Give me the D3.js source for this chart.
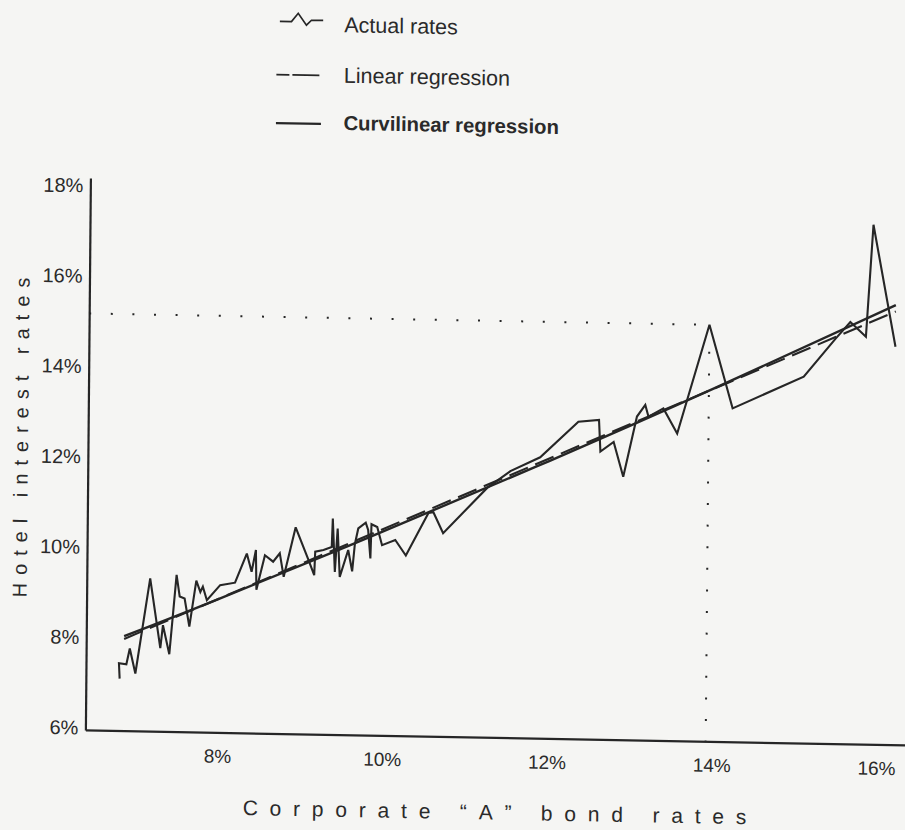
<!DOCTYPE html>
<html>
<head>
<meta charset="utf-8">
<script src="https://cdn.jsdelivr.net/npm/d3@7"></script>
<style>
  html, body { margin: 0; padding: 0; background: #f5f5f3; }
  svg { display: block; }
  text { font-family: "Liberation Sans", Arial, Helvetica, sans-serif; fill: #2a2a2a; }
</style>
</head>
<body>
<svg id="chart" width="905" height="830"></svg>
<script>
// ---- Data ----
const actualX = [6.81, 6.80, 6.89, 6.93, 7.00, 7.17, 7.30, 7.33, 7.41, 7.49,
  7.53, 7.59, 7.65, 7.73, 7.78, 7.81, 7.86, 8.02, 8.20, 8.34,
  8.40, 8.45, 8.46, 8.56, 8.66, 8.74, 8.79, 8.93, 9.09, 9.16,
  9.17, 9.27, 9.37, 9.38, 9.41, 9.44, 9.47, 9.57, 9.62, 9.65,
  9.69, 9.78, 9.81, 9.84, 9.85, 9.92, 9.98, 10.14, 10.27, 10.54,
  10.60, 10.72, 11.25, 11.53, 11.89, 12.35, 12.60, 12.62, 12.78, 12.90,
  13.06, 13.16, 13.20, 13.38, 13.55, 13.93, 14.22, 15.08, 15.46, 15.64,
  15.83, 15.91, 16.19];
const actualY = [7.10, 7.44, 7.42, 7.77, 7.22, 9.33, 7.79, 8.30, 7.66, 9.42,
  8.94, 8.90, 8.28, 9.30, 9.05, 9.17, 8.87, 9.21, 9.27, 9.92,
  9.52, 10.00, 9.12, 9.89, 9.75, 9.94, 9.42, 10.52, 9.80, 9.47,
  9.99, 10.03, 10.10, 10.73, 9.55, 10.51, 9.44, 10.04, 9.57, 10.17,
  10.52, 10.65, 10.49, 9.86, 10.62, 10.56, 10.16, 10.28, 9.94, 10.89,
  10.91, 10.45, 11.47, 11.85, 12.17, 12.97, 13.02, 12.32, 12.54, 11.77,
  13.11, 13.37, 13.11, 13.30, 12.75, 15.17, 13.33, 14.06, 14.91, 15.29,
  14.97, 17.45, 14.76];

const linearX = [6.86, 16.19];
const linearY = [7.98, 15.54];

const curveX = [6.86, 8, 10, 12, 14, 16.19];
const curveY = [8.04, 8.90, 10.47, 12.09, 13.77, 15.68];

const guideX = 13.93;   // dotted reference point
const guideY = 15.17;

const xTicks = [8, 10, 12, 14, 16];
const yTicks = [6, 8, 10, 12, 14, 16, 18];

const legendLabels = ["Actual rates", "Linear regression", "Curvilinear regression"];
const xTitle = "Corporate \u201CA\u201D bond rates";
const yTitle = "Hotel interest rates";

// ---- Drawing ----
const ink = "#262626";
const svg = d3.select("#chart");
svg.append("rect").attr("width", 905).attr("height", 830).attr("fill", "#f5f5f3");

// slight skew/rotation like the scanned original
const g = svg.append("g").attr("transform", "matrix(1,0.0183,-0.0091,1,4.1,-8.97)");

const x = d3.scaleLinear().domain([6.4, 16.5]).range([88, 920]);
const y = d3.scaleLinear().domain([5.95, 18.17]).range([737.3, 185.3]);

// axes
const xAxis = g.append("g").attr("transform", `translate(0,${y(5.95)})`)
  .call(d3.axisBottom(x).tickValues(xTicks).tickFormat(d => d + "%").tickSize(0).tickSizeOuter(0).tickPadding(17));
xAxis.select(".domain").attr("stroke", ink).attr("stroke-width", 2.2);
xAxis.selectAll("text").attr("font-size", 19).attr("fill", ink)
  .attr("font-family", "Liberation Sans, Arial, sans-serif");

const yAxis = g.append("g").attr("transform", `translate(${x(6.4)},0)`)
  .call(d3.axisLeft(y).tickValues(yTicks).tickFormat(d => d + "%").tickSize(0).tickSizeOuter(0).tickPadding(7));
yAxis.select(".domain").attr("stroke", ink).attr("stroke-width", 2.2);
yAxis.selectAll("text").attr("font-size", 20).attr("fill", ink)
  .attr("font-family", "Liberation Sans, Arial, sans-serif");

// dotted guides
g.append("line")
  .attr("x1", x(6.4)).attr("x2", x(guideX) - 6)
  .attr("y1", y(guideY)).attr("y2", y(guideY))
  .attr("stroke", ink).attr("stroke-width", 2).attr("stroke-dasharray", "2 19.6");
g.append("line")
  .attr("x1", x(guideX)).attr("x2", x(guideX))
  .attr("y1", y(guideY) + 27).attr("y2", y(5.95))
  .attr("stroke", ink).attr("stroke-width", 2).attr("stroke-dasharray", "2 19.6");

const line = d3.line().x(d => x(d[0])).y(d => y(d[1]));

// linear regression (dashed)
g.append("path").datum(linearX.map((v, i) => [v, linearY[i]]))
  .attr("d", line).attr("fill", "none").attr("stroke", ink)
  .attr("stroke-width", 2.1).attr("stroke-dasharray", "20 8");

// curvilinear regression (solid)
g.append("path").datum(curveX.map((v, i) => [v, curveY[i]]))
  .attr("d", line.curve(d3.curveNatural)).attr("fill", "none").attr("stroke", ink)
  .attr("stroke-width", 2.4);
line.curve(d3.curveLinear);

// actual rates
g.append("path").datum(actualX.map((v, i) => [v, actualY[i]]))
  .attr("d", line).attr("fill", "none").attr("stroke", ink)
  .attr("stroke-width", 2.1).attr("stroke-linejoin", "miter").attr("stroke-miterlimit", 3);

// axis titles
g.append("text").text(xTitle)
  .attr("x", 246).attr("y", 819.5)
  .attr("font-size", 21).attr("letter-spacing", 11.8);
g.append("text").text(yTitle)
  .attr("transform", "translate(28,606) rotate(-90)")
  .attr("font-size", 20).attr("letter-spacing", 8);

// legend
const lg = g.append("g");
const zig = [[0, 0], [11.6, 0], [18.3, -8.4], [26.6, 3.3], [31.6, -1.7], [43.3, -1.7]];
lg.append("path").datum(zig).attr("transform", "translate(276,25.3)")
  .attr("d", d3.line()).attr("fill", "none").attr("stroke", ink).attr("stroke-width", 1.7);
lg.append("line").attr("x1", 273).attr("x2", 316).attr("y1", 78.6).attr("y2", 78.6)
  .attr("stroke", ink).attr("stroke-width", 1.9).attr("stroke-dasharray", "13 3 14 0");
lg.append("line").attr("x1", 273).attr("x2", 318).attr("y1", 127).attr("y2", 127)
  .attr("stroke", ink).attr("stroke-width", 2.3);
lg.selectAll("text.leg").data(legendLabels).join("text").attr("class", "leg")
  .attr("x", 340.5).attr("y", (d, i) => [35, 85.4, 132.7][i])
  .attr("font-size", (d, i) => i === 2 ? 20.3 : 21.5)
  .attr("font-weight", (d, i) => i === 2 ? "bold" : "normal")
  .text(d => d);
</script>
</body>
</html>
